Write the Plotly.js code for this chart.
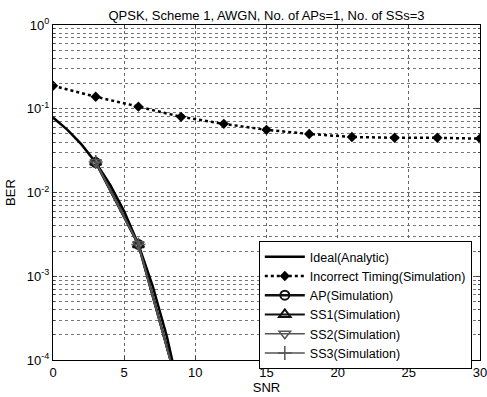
<!DOCTYPE html>
<html>
<head>
<meta charset="utf-8">
<script src="https://cdn.plot.ly/plotly-3.0.1.min.js"></script>
<style>html,body{margin:0;padding:0;background:#fff;}#chart{width:487px;height:397px;}</style>
</head>
<body>
<div id="chart"></div>
<script>
// Data
const snrIdeal = [0, 1, 2, 3, 4, 5, 6, 7, 8, 9];
const berIdeal = [0.0786, 0.0563, 0.0375, 0.0229, 0.0125, 0.00595, 0.00239, 0.00077, 0.00019, 0.000034];
const snrTiming = [0, 3, 6, 9, 12, 15, 18, 21, 24, 27, 30];
const berTiming = [0.188, 0.139, 0.106, 0.080, 0.066, 0.056, 0.050, 0.046, 0.045, 0.045, 0.044];
const snrSim = [3, 6, 9];
const berAP = [0.0228, 0.00240, 0.000035];
const berSS1 = [0.0230, 0.00238, 0.000034];
const berSS2 = [0.0229, 0.00241, 0.000035];
const berSS3 = [0.0231, 0.00239, 0.000033];
const xTickVals = [0, 5, 10, 15, 20, 25, 30];
const yTickVals = [1, 0.1, 0.01, 0.001, 0.0001];
const yTickText = ['10<sup>0</sup>', '10<sup>-1</sup>', '10<sup>-2</sup>', '10<sup>-3</sup>', '10<sup>-4</sup>'];
const seriesNames = ['Ideal(Analytic)', 'Incorrect Timing(Simulation)', 'AP(Simulation)', 'SS1(Simulation)', 'SS2(Simulation)', 'SS3(Simulation)'];

const traces = [
  {x: snrIdeal, y: berIdeal, name: seriesNames[0], mode: 'lines', line: {color: '#000', width: 2.5}},
  {x: snrTiming, y: berTiming, name: seriesNames[1], mode: 'lines+markers', line: {color: '#000', width: 2.5, dash: 'dot'}, marker: {symbol: 'diamond', size: 8, color: '#000'}},
  {x: snrSim, y: berAP, name: seriesNames[2], mode: 'lines+markers', line: {color: '#111', width: 2.5}, marker: {symbol: 'circle-open', size: 9, color: '#111', line: {width: 2}}},
  {x: snrSim, y: berSS1, name: seriesNames[3], mode: 'lines+markers', line: {color: '#111', width: 2}, marker: {symbol: 'triangle-up-open', size: 10, color: '#111', line: {width: 2}}},
  {x: snrSim, y: berSS2, name: seriesNames[4], mode: 'lines+markers', line: {color: '#555', width: 1.5}, marker: {symbol: 'triangle-down-open', size: 10, color: '#555', line: {width: 1.5}}},
  {x: snrSim, y: berSS3, name: seriesNames[5], mode: 'lines+markers', line: {color: '#555', width: 1.5}, marker: {symbol: 'cross-thin-open', size: 10, color: '#555', line: {width: 1.5}}}
];

const layout = {
  width: 487, height: 397,
  margin: {l: 53, r: 7, t: 25, b: 37},
  paper_bgcolor: '#fff', plot_bgcolor: '#fff',
  font: {family: 'Arial, Liberation Sans, sans-serif', size: 11, color: '#000'},
  title: {text: 'QPSK, Scheme 1, AWGN, No. of APs=1, No. of SSs=3', x: 0.5, xref: 'paper', xanchor: 'center', y: 1, yref: 'paper', yanchor: 'bottom', pad: {b: 5}, font: {size: 13, color: '#000'}},
  xaxis: {
    range: [0, 30], tickvals: xTickVals, ticks: 'inside', ticklen: 4, ticklabeloverflow: 'allow',
    showline: true, linecolor: '#000', linewidth: 1, mirror: 'ticks',
    showgrid: true, gridcolor: '#666', griddash: 'dot', gridwidth: 1, zeroline: false,
    title: {text: 'SNR', standoff: 4, font: {size: 13}}, tickfont: {size: 13}
  },
  yaxis: {
    type: 'log', range: [-4, 0], tickvals: yTickVals, ticktext: yTickText, ticks: 'inside', ticklen: 4,
    showline: true, linecolor: '#000', linewidth: 1, mirror: 'ticks',
    showgrid: true, gridcolor: '#666', griddash: 'dot', gridwidth: 1, zeroline: false,
    minor: {showgrid: true, gridcolor: '#777', griddash: 'dot', gridwidth: 1, ticks: 'inside', ticklen: 2, dtick: 'D1'},
    title: {text: 'BER', standoff: 8, font: {size: 13}}, tickfont: {size: 13}
  },
  legend: {
    x: 0.482, y: 0.355, xanchor: 'left', yanchor: 'top',
    bgcolor: '#fff', bordercolor: '#000', borderwidth: 1,
    font: {size: 12.5, color: '#000'}, tracegroupgap: 0, itemwidth: 40
  },
  showlegend: true
};

Plotly.newPlot('chart', traces, layout, {displayModeBar: false, staticPlot: true});
</script>
</body>
</html>
